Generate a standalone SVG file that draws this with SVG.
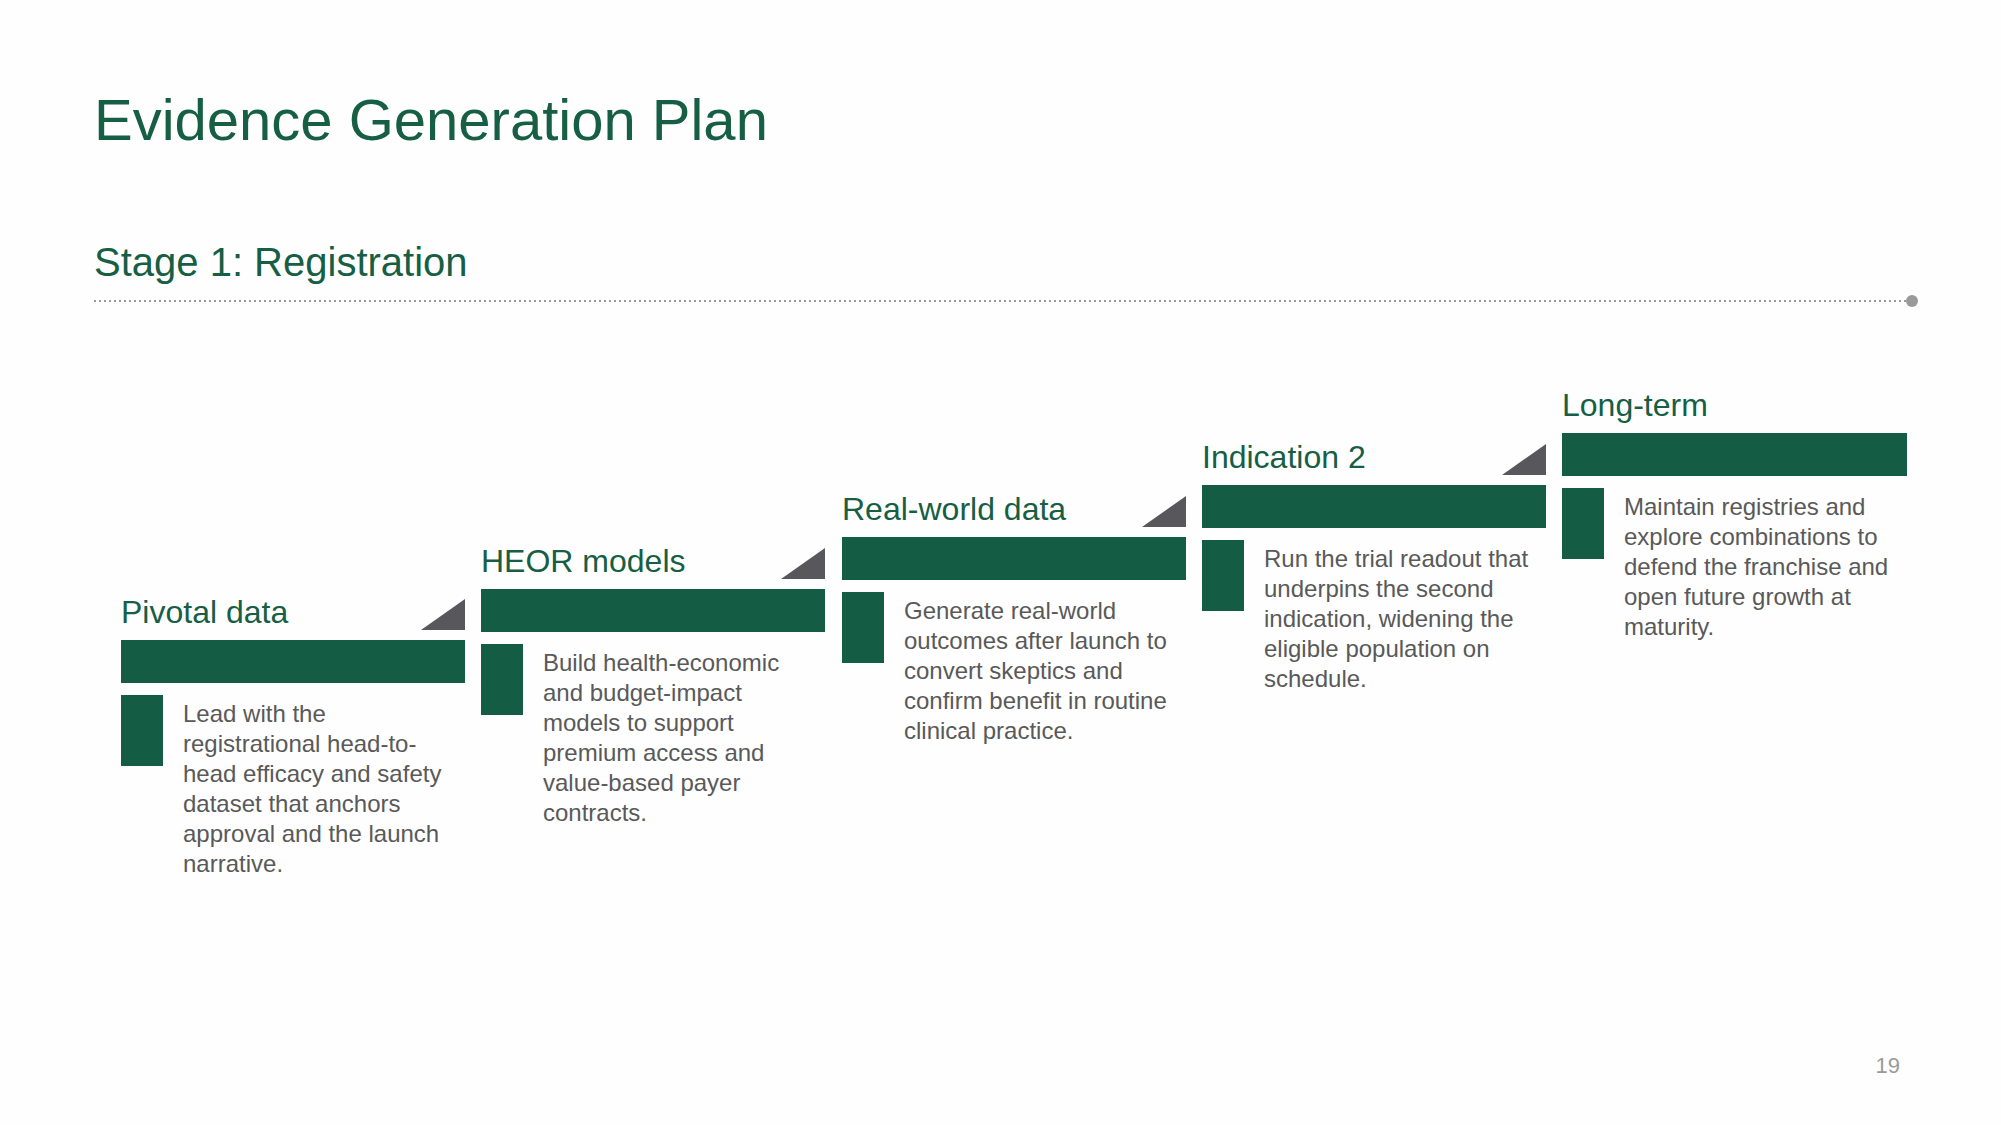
<svg xmlns="http://www.w3.org/2000/svg" width="2001" height="1125" viewBox="0 0 2001 1125">
<style>
.t{font-family:"Liberation Sans",Arial,sans-serif;fill:#165E44}
.h{font-size:32px}
.d{font-family:"Liberation Sans",Arial,sans-serif;fill:#595959;font-size:24px}
.bar{fill:#145C43}
.tri{fill:#58585C}
</style>
<rect width="2001" height="1125" fill="#fefefe"/>
<text class="t" x="94" y="140" font-size="58">Evidence Generation Plan</text>
<text class="t" x="94" y="276" font-size="40">Stage 1: Registration</text>
<line x1="94" y1="301" x2="1906" y2="301" stroke="#9a9a9a" stroke-width="2" stroke-dasharray="2,3"/>
<circle cx="1912" cy="301" r="6" fill="#9a9a9a"/>
<g id="connectors"/>
<g id="step1" transform="translate(121,640)">
<text class="t h" x="0" y="-17">Pivotal data</text>
<polygon class="tri" points="300,-10 344,-10 344,-41"/>
<rect class="bar" x="0" y="0" width="344" height="43"/>
<rect class="bar" x="0" y="55" width="42" height="71"/>
<text class="d"><tspan x="62" y="82">Lead with the</tspan><tspan x="62" y="112">registrational head-to-</tspan><tspan x="62" y="142">head efficacy and safety</tspan><tspan x="62" y="172">dataset that anchors</tspan><tspan x="62" y="202">approval and the launch</tspan><tspan x="62" y="232">narrative.</tspan></text>
</g>
<g id="step2" transform="translate(481,589)">
<text class="t h" x="0" y="-17">HEOR models</text>
<polygon class="tri" points="300,-10 344,-10 344,-41"/>
<rect class="bar" x="0" y="0" width="344" height="43"/>
<rect class="bar" x="0" y="55" width="42" height="71"/>
<text class="d"><tspan x="62" y="82">Build health-economic</tspan><tspan x="62" y="112">and budget-impact</tspan><tspan x="62" y="142">models to support</tspan><tspan x="62" y="172">premium access and</tspan><tspan x="62" y="202">value-based payer</tspan><tspan x="62" y="232">contracts.</tspan></text>
</g>
<g id="step3" transform="translate(842,537)">
<text class="t h" x="0" y="-17">Real-world data</text>
<polygon class="tri" points="300,-10 344,-10 344,-41"/>
<rect class="bar" x="0" y="0" width="344" height="43"/>
<rect class="bar" x="0" y="55" width="42" height="71"/>
<text class="d"><tspan x="62" y="82">Generate real-world</tspan><tspan x="62" y="112">outcomes after launch to</tspan><tspan x="62" y="142">convert skeptics and</tspan><tspan x="62" y="172">confirm benefit in routine</tspan><tspan x="62" y="202">clinical practice.</tspan></text>
</g>
<g id="step4" transform="translate(1202,485)">
<text class="t h" x="0" y="-17">Indication 2</text>
<polygon class="tri" points="300,-10 344,-10 344,-41"/>
<rect class="bar" x="0" y="0" width="344" height="43"/>
<rect class="bar" x="0" y="55" width="42" height="71"/>
<text class="d"><tspan x="62" y="82">Run the trial readout that</tspan><tspan x="62" y="112">underpins the second</tspan><tspan x="62" y="142">indication, widening the</tspan><tspan x="62" y="172">eligible population on</tspan><tspan x="62" y="202">schedule.</tspan></text>
</g>
<g id="step5" transform="translate(1562,433)">
<text class="t h" x="0" y="-17">Long-term</text>
<rect class="bar" x="0" y="0" width="345" height="43"/>
<rect class="bar" x="0" y="55" width="42" height="71"/>
<text class="d"><tspan x="62" y="82">Maintain registries and</tspan><tspan x="62" y="112">explore combinations to</tspan><tspan x="62" y="142">defend the franchise and</tspan><tspan x="62" y="172">open future growth at</tspan><tspan x="62" y="202">maturity.</tspan></text>
</g>
<text x="1900" y="1073" text-anchor="end" font-family="Liberation Sans,Arial,sans-serif" font-size="22" fill="#9a9a9a">19</text>
</svg>
